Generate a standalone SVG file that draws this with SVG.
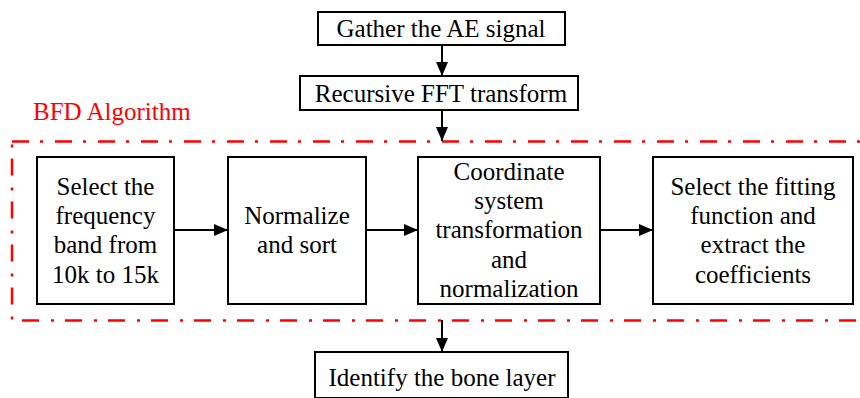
<svg xmlns="http://www.w3.org/2000/svg" width="860" height="398" viewBox="0 0 860 398">
<defs>
<marker id="ah" markerWidth="14" markerHeight="12" refX="14" refY="6" orient="auto" markerUnits="userSpaceOnUse">
<path d="M0,0 L14,6 L0,12 Z" fill="#000"/>
</marker>
<style>
.box{fill:#fff;stroke:#000;stroke-width:2}
.t{font-family:"Liberation Serif","Times New Roman",serif;font-size:25px;fill:#000;text-anchor:middle}
.c{stroke:#000;stroke-width:2;fill:none}
.red{fill:none;stroke:#ff0000;stroke-width:2.5;stroke-dasharray:17 11 3 12}
</style>
</defs>
<g id="bfd">
<rect class="red" x="12" y="141.5" width="870" height="179"/>
<text x="33" y="120" font-family="Liberation Serif, serif" font-size="25" fill="#ff0000">BFD Algorithm</text>
</g>
<g id="connectors">
<line class="c" x1="442" y1="45" x2="442" y2="76" marker-end="url(#ah)"/>
<line class="c" x1="442" y1="110" x2="442" y2="141" marker-end="url(#ah)"/>
<line class="c" x1="174" y1="230" x2="228" y2="230" marker-end="url(#ah)"/>
<line class="c" x1="366" y1="230" x2="418" y2="230" marker-end="url(#ah)"/>
<line class="c" x1="600" y1="230" x2="653" y2="230" marker-end="url(#ah)"/>
<line class="c" x1="442" y1="320" x2="442" y2="352" marker-end="url(#ah)"/>
</g>
<g id="n1">
<rect class="box" x="318" y="12" width="247" height="33"/>
<text class="t" x="441" y="37">Gather the AE signal</text>
</g>
<g id="n2">
<rect class="box" x="300" y="76" width="278" height="34"/>
<text class="t" x="441" y="102">Recursive FFT transform</text>
</g>
<g id="n3">
<rect class="box" x="37" y="157" width="137" height="147"/>
<text class="t" x="105.5" y="195">Select the</text>
<text class="t" x="105.5" y="224">frequency</text>
<text class="t" x="105.5" y="253">band from</text>
<text class="t" x="105.5" y="283">10k to 15k</text>
</g>
<g id="n4">
<rect class="box" x="228" y="157" width="138" height="147"/>
<text class="t" x="297" y="224">Normalize</text>
<text class="t" x="297" y="253">and sort</text>
</g>
<g id="n5">
<rect class="box" x="418" y="157" width="182" height="147"/>
<text class="t" x="509" y="180">Coordinate</text>
<text class="t" x="509" y="209">system</text>
<text class="t" x="509" y="238">transformation</text>
<text class="t" x="509" y="268">and</text>
<text class="t" x="509" y="297">normalization</text>
</g>
<g id="n6">
<rect class="box" x="653" y="157" width="200" height="147"/>
<text class="t" x="753" y="195">Select the fitting</text>
<text class="t" x="753" y="224">function and</text>
<text class="t" x="753" y="253">extract the</text>
<text class="t" x="753" y="283">coefficients</text>
</g>
<g id="n7">
<rect class="box" x="315" y="352" width="253" height="46"/>
<text class="t" x="442" y="386">Identify the bone layer</text>
</g>
</svg>
